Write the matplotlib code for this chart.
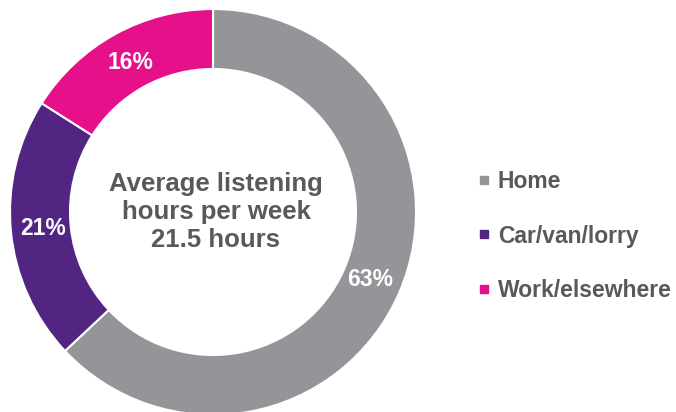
import matplotlib
matplotlib.use("Agg")
import matplotlib.pyplot as plt
from matplotlib.lines import Line2D

categories = ["Home", "Car/van/lorry", "Work/elsewhere"]
shares = [63, 21, 16]
colors = ["#939598", "#522583", "#E5108A"]
center_text = "Average listening\nhours per week\n21.5 hours"

plt.rcParams['font.family'] = ['Liberation Sans', 'DejaVu Sans']

W, H = 676, 412
fig = plt.figure(figsize=(W / 100, H / 100), dpi=100)
ax = fig.add_axes([0, 0, 1, 1])

R = 203.0
cx, cy = 213.0, 212.0  # pixel centre (y from top)

wedges, texts = ax.pie(shares, colors=colors, startangle=90, counterclock=False,
                       radius=1.0, wedgeprops=dict(width=60 / R, edgecolor="white", linewidth=1.5),
                       labels=[f"{v}%" for v in shares], labeldistance=171 / R,
                       textprops=dict(color="white", fontsize=16.5, fontweight="bold"))
for t in texts:
    t.set_ha("center")
    t.set_va("center")

ax.set_xlim(-cx / R, (W - cx) / R)
ax.set_ylim(-(H - cy) / R, cy / R)
ax.set_aspect("auto")
ax.axis("off")

ax.text(3 / R, 0, center_text, ha="center", va="center", fontsize=18.5,
        fontweight="bold", color="#595959", linespacing=1.22)

handles = [Line2D([], [], marker="s", linestyle="none", markersize=6,
                  markerfacecolor=c, markeredgecolor=c) for c in colors]
leg = fig.legend(handles, categories, loc="center left", bbox_to_anchor=(468 / W, 1 - 236 / H),
                 frameon=False, fontsize=16.5, handlelength=0.6, handletextpad=0.3,
                 labelspacing=1.37, borderaxespad=0)
for t in leg.get_texts():
    t.set_color("#595959")
    t.set_fontweight("bold")

fig.savefig("out.png", dpi=100, facecolor="white")
